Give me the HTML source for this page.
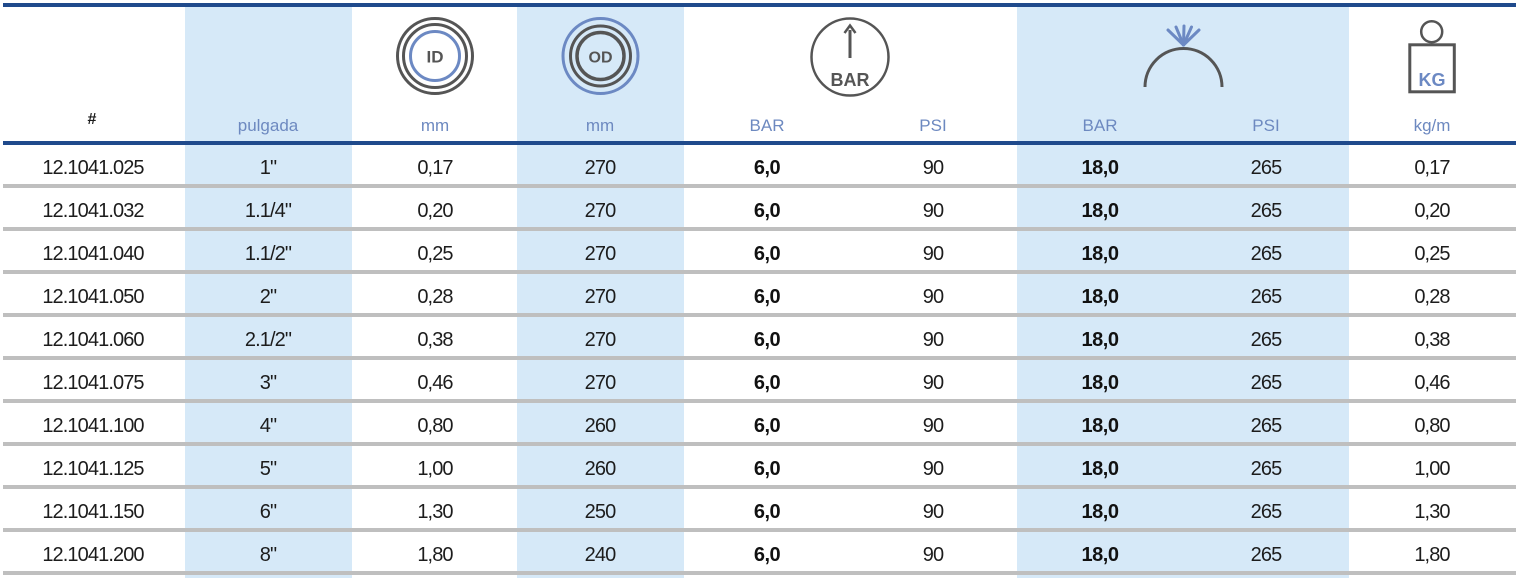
<!DOCTYPE html>
<html><head><meta charset="utf-8">
<style>
html,body{margin:0;padding:0;}
body{width:1519px;height:578px;overflow:hidden;position:relative;background:#fff;font-family:"Liberation Sans",Arial,sans-serif;color:#1c1c1c;}
.bg{position:absolute;top:7px;height:571px;background:#d6e9f8;}
.ln{position:absolute;left:3px;width:1513px;}
.blue{background:#1f4a8c;height:4px;}
.gray{background:#bfbfbf;height:4px;}
.r{position:absolute;left:0;width:1519px;height:43px;line-height:43px;font-size:20px;letter-spacing:-0.9px;}
.c{position:absolute;top:0;width:160px;text-align:center;}
.b{font-weight:bold;color:#111;letter-spacing:-0.5px;}
.c1{left:13px}.c2{left:188px}.c3{left:355px}.c4{left:520px}.c5{left:687px}.c6{left:853px}.c7{left:1020px}.c8{left:1186px}.c9{left:1352px}
.h{position:absolute;top:116px;height:20px;line-height:20px;font-size:17px;color:#6d89c0;width:160px;text-align:center;}
svg{position:absolute;left:0;top:0;}
</style></head><body>
<div class="bg" style="left:185px;width:167px"></div>
<div class="bg" style="left:517px;width:167px"></div>
<div class="bg" style="left:1017px;width:332px"></div>

<div class="ln blue" style="top:3px"></div>
<div class="ln blue" style="top:141px"></div>
<div class="ln gray" style="top:184px"></div>
<div class="ln gray" style="top:227px"></div>
<div class="ln gray" style="top:270px"></div>
<div class="ln gray" style="top:313px"></div>
<div class="ln gray" style="top:356px"></div>
<div class="ln gray" style="top:399px"></div>
<div class="ln gray" style="top:442px"></div>
<div class="ln gray" style="top:485px"></div>
<div class="ln gray" style="top:528px"></div>
<div class="ln gray" style="top:571px"></div>

<svg width="1519" height="578" viewBox="0 0 1519 578">
  <!-- ID icon -->
  <g fill="none" stroke-width="3">
    <circle cx="435" cy="56" r="37.5" stroke="#555"/>
    <circle cx="435" cy="56" r="31.5" stroke="#555"/>
    <circle cx="435" cy="56" r="24.5" stroke="#6c89c3"/>
  </g>
  <text x="435" y="62.5" text-anchor="middle" font-family="Liberation Sans, Arial, sans-serif" font-weight="bold" font-size="17" fill="#555">ID</text>
  <!-- OD icon -->
  <g fill="none" stroke-width="3">
    <circle cx="600.5" cy="56" r="37.5" stroke="#6c89c3"/>
    <circle cx="600.5" cy="56" r="30" stroke="#555"/>
    <circle cx="600.5" cy="56" r="23.5" stroke="#555" stroke-width="3.5"/>
  </g>
  <text x="600.5" y="62.5" text-anchor="middle" font-family="Liberation Sans, Arial, sans-serif" font-weight="bold" font-size="16" fill="#555">OD</text>
  <!-- BAR icon -->
  <circle cx="850" cy="57" r="38.5" fill="none" stroke="#555" stroke-width="2.5"/>
  <line x1="850" y1="58" x2="850" y2="30" stroke="#555" stroke-width="3"/>
  <polyline points="844.5,33 850,25.5 855.5,33" fill="none" stroke="#555" stroke-width="2.5"/>
  <text x="850" y="86" text-anchor="middle" font-family="Liberation Sans, Arial, sans-serif" font-weight="bold" font-size="18" fill="#555">BAR</text>
  <!-- Burst icon -->
  <path d="M1145,87 A38.5,38.5 0 0 1 1222,87" fill="none" stroke="#555" stroke-width="3"/>
  <g stroke="#6c89c3" stroke-width="3" stroke-linecap="round">
    <line x1="1183.5" y1="45" x2="1168" y2="30"/>
    <line x1="1183.5" y1="45" x2="1176" y2="27"/>
    <line x1="1183.5" y1="45" x2="1184" y2="26"/>
    <line x1="1183.5" y1="45" x2="1191.5" y2="27"/>
    <line x1="1183.5" y1="45" x2="1199" y2="30"/>
  </g>
  <!-- KG icon -->
  <circle cx="1431.7" cy="31.7" r="10.5" fill="none" stroke="#555" stroke-width="2.5"/>
  <rect x="1409.8" y="44.8" width="44.5" height="47" fill="none" stroke="#555" stroke-width="3"/>
  <text x="1432" y="86" text-anchor="middle" font-family="Liberation Sans, Arial, sans-serif" font-weight="bold" font-size="18" fill="#6c89c3">KG</text>
</svg>

<div class="h" style="left:12px;top:110px;color:#1c1c1c;font-weight:bold;font-size:16px">#</div>
<div class="h" style="left:188px">pulgada</div>
<div class="h" style="left:355px">mm</div>
<div class="h" style="left:520px">mm</div>
<div class="h" style="left:687px">BAR</div>
<div class="h" style="left:853px">PSI</div>
<div class="h" style="left:1020px">BAR</div>
<div class="h" style="left:1186px">PSI</div>
<div class="h" style="left:1352px">kg/m</div>

<div class="r" style="top:147px"><span class="c c1">12.1041.025</span><span class="c c2">1"</span><span class="c c3">0,17</span><span class="c c4">270</span><span class="c c5 b">6,0</span><span class="c c6">90</span><span class="c c7 b">18,0</span><span class="c c8">265</span><span class="c c9">0,17</span></div>
<div class="r" style="top:190px"><span class="c c1">12.1041.032</span><span class="c c2">1.1/4"</span><span class="c c3">0,20</span><span class="c c4">270</span><span class="c c5 b">6,0</span><span class="c c6">90</span><span class="c c7 b">18,0</span><span class="c c8">265</span><span class="c c9">0,20</span></div>
<div class="r" style="top:233px"><span class="c c1">12.1041.040</span><span class="c c2">1.1/2"</span><span class="c c3">0,25</span><span class="c c4">270</span><span class="c c5 b">6,0</span><span class="c c6">90</span><span class="c c7 b">18,0</span><span class="c c8">265</span><span class="c c9">0,25</span></div>
<div class="r" style="top:276px"><span class="c c1">12.1041.050</span><span class="c c2">2"</span><span class="c c3">0,28</span><span class="c c4">270</span><span class="c c5 b">6,0</span><span class="c c6">90</span><span class="c c7 b">18,0</span><span class="c c8">265</span><span class="c c9">0,28</span></div>
<div class="r" style="top:319px"><span class="c c1">12.1041.060</span><span class="c c2">2.1/2"</span><span class="c c3">0,38</span><span class="c c4">270</span><span class="c c5 b">6,0</span><span class="c c6">90</span><span class="c c7 b">18,0</span><span class="c c8">265</span><span class="c c9">0,38</span></div>
<div class="r" style="top:362px"><span class="c c1">12.1041.075</span><span class="c c2">3"</span><span class="c c3">0,46</span><span class="c c4">270</span><span class="c c5 b">6,0</span><span class="c c6">90</span><span class="c c7 b">18,0</span><span class="c c8">265</span><span class="c c9">0,46</span></div>
<div class="r" style="top:405px"><span class="c c1">12.1041.100</span><span class="c c2">4"</span><span class="c c3">0,80</span><span class="c c4">260</span><span class="c c5 b">6,0</span><span class="c c6">90</span><span class="c c7 b">18,0</span><span class="c c8">265</span><span class="c c9">0,80</span></div>
<div class="r" style="top:448px"><span class="c c1">12.1041.125</span><span class="c c2">5"</span><span class="c c3">1,00</span><span class="c c4">260</span><span class="c c5 b">6,0</span><span class="c c6">90</span><span class="c c7 b">18,0</span><span class="c c8">265</span><span class="c c9">1,00</span></div>
<div class="r" style="top:491px"><span class="c c1">12.1041.150</span><span class="c c2">6"</span><span class="c c3">1,30</span><span class="c c4">250</span><span class="c c5 b">6,0</span><span class="c c6">90</span><span class="c c7 b">18,0</span><span class="c c8">265</span><span class="c c9">1,30</span></div>
<div class="r" style="top:534px"><span class="c c1">12.1041.200</span><span class="c c2">8"</span><span class="c c3">1,80</span><span class="c c4">240</span><span class="c c5 b">6,0</span><span class="c c6">90</span><span class="c c7 b">18,0</span><span class="c c8">265</span><span class="c c9">1,80</span></div>
</body></html>
